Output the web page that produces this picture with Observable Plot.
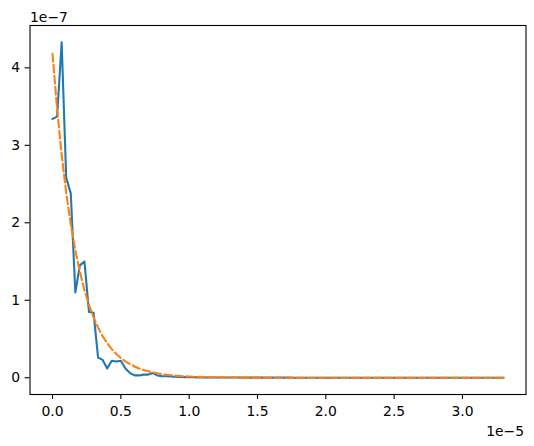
<!DOCTYPE html>
<html>
<head>
<meta charset="utf-8">
<script src="https://cdn.jsdelivr.net/npm/d3@7"></script>
<script src="https://cdn.jsdelivr.net/npm/@observablehq/plot@0.6"></script>
<style>
  html, body { margin: 0; padding: 0; background: #fff; }
  #chart svg { display: block; }
</style>
</head>
<body>
<div id="chart"></div>
<script>
// x grid: 100 evenly spaced samples from 0 to 3.3e-5 (values in units of 1e-5)
const X_START = 0;
const X_END = 3.3;
const N_POINTS = 100;

// measured series (units of 1e-7)
const measured = [
  3.34, 3.37, 4.33, 2.58, 2.38, 1.10, 1.45, 1.50, 0.85, 0.84,
  0.26, 0.23, 0.12, 0.22, 0.21, 0.22, 0.12, 0.06, 0.03, 0.03,
  0.04, 0.04, 0.06, 0.03, 0.02, 0.02, 0.015, 0.012, 0.010, 0.008,
  0.007, 0.006, 0.005, 0.004, 0.004, 0.003, 0.003, 0.003, 0.002, 0.002,
  0.002, 0.002, 0.001, 0.001, 0.001, 0.001, 0.001, 0.001, 0.001, 0.001,
  0.001, 0.001, 0.001, 0.000, 0.000, 0.000, 0.000, 0.000, 0.000, 0.000,
  0.000, 0.000, 0.000, 0.000, 0.000, 0.000, 0.000, 0.000, 0.000, 0.000,
  0.000, 0.000, 0.000, 0.000, 0.000, 0.000, 0.000, 0.000, 0.000, 0.000,
  0.000, 0.000, 0.000, 0.000, 0.000, 0.000, 0.000, 0.000, 0.000, 0.000,
  0.000, 0.000, 0.000, 0.000, 0.000, 0.000, 0.000, 0.000, 0.000, 0.000
];

// fitted curve (units of 1e-7)
const fitted = [
  4.180, 3.468, 2.878, 2.388, 1.981, 1.644, 1.364, 1.132, 0.939, 0.779,
  0.646, 0.536, 0.445, 0.369, 0.306, 0.254, 0.211, 0.175, 0.145, 0.120,
  0.100, 0.083, 0.069, 0.057, 0.047, 0.039, 0.033, 0.027, 0.0225, 0.0187,
  0.0155, 0.0128, 0.0107, 0.0088, 0.0073, 0.0061, 0.0050, 0.0042, 0.0035, 0.0029,
  0.0024, 0.0020, 0.0017, 0.0014, 0.0011, 0.0009, 0.0008, 0.0007, 0.0005, 0.0004,
  0.0004, 0.0003, 0.0003, 0.0002, 0.0002, 0.0002, 0.0001, 0.0001, 0.0001, 0.0001,
  0.0001, 0.0001, 0.0000, 0.0000, 0.0000, 0.0000, 0.0000, 0.0000, 0.0000, 0.0000,
  0.0000, 0.0000, 0.0000, 0.0000, 0.0000, 0.0000, 0.0000, 0.0000, 0.0000, 0.0000,
  0.0000, 0.0000, 0.0000, 0.0000, 0.0000, 0.0000, 0.0000, 0.0000, 0.0000, 0.0000,
  0.0000, 0.0000, 0.0000, 0.0000, 0.0000, 0.0000, 0.0000, 0.0000, 0.0000, 0.0000
];

const xTicks = [0, 0.5, 1.0, 1.5, 2.0, 2.5, 3.0];
const yTicks = [0, 1, 2, 3, 4];
const xOffsetLabel = "1e\u22125";
const yOffsetLabel = "1e\u22127";

const xs = d3.range(N_POINTS).map(i => X_START + i * (X_END - X_START) / (N_POINTS - 1));
const measuredData = xs.map((x, i) => ({x, y: measured[i]}));
const fittedData = xs.map((x, i) => ({x, y: fitted[i]}));

const xPad = (X_END - X_START) * 0.05;
const yMax = d3.max(measured.concat(fitted));
const yPad = yMax * 0.05;

const FONT = "DejaVu Sans, sans-serif";
const FS = 13.9;

const chart = Plot.plot({
  width: 534,
  height: 446,
  marginLeft: 29.5,
  marginRight: 8.5,
  marginTop: 25,
  marginBottom: 52,
  style: {fontFamily: FONT, fontSize: FS + "px", color: "#000", background: "#fff"},
  x: {domain: [X_START - xPad, X_END + xPad]},
  y: {domain: [-yPad, yMax + yPad]},
  marks: [
    Plot.line(measuredData, {x: "x", y: "y", stroke: "#1f77b4", strokeWidth: 2.08, strokeLinejoin: "round", strokeLinecap: "square"}),
    Plot.line(fittedData, {x: "x", y: "y", stroke: "#ff7f0e", strokeWidth: 2.08, strokeDasharray: "7.7,3.33"}),
    Plot.frame({stroke: "#000", strokeWidth: 1.1}),
    Plot.axisX({ticks: xTicks, tickFormat: d3.format(".1f"), tickSize: 4.9, tickPadding: 6.5, strokeWidth: 1.1, label: null, fontSize: FS}),
    Plot.axisY({ticks: yTicks, tickFormat: d3.format("d"), tickSize: 4.9, tickPadding: 4.9, strokeWidth: 1.1, label: null, fontSize: FS}),
    Plot.text([yOffsetLabel], {frameAnchor: "top-left", textAnchor: "start", lineAnchor: "bottom", dy: -4, fontSize: FS, fill: "#000"}),
    Plot.text([xOffsetLabel], {frameAnchor: "bottom-right", textAnchor: "end", lineAnchor: "bottom", dy: 41, dx: -2, fontSize: FS, fill: "#000"})
  ]
});
document.getElementById("chart").appendChild(chart);
</script>
</body>
</html>
